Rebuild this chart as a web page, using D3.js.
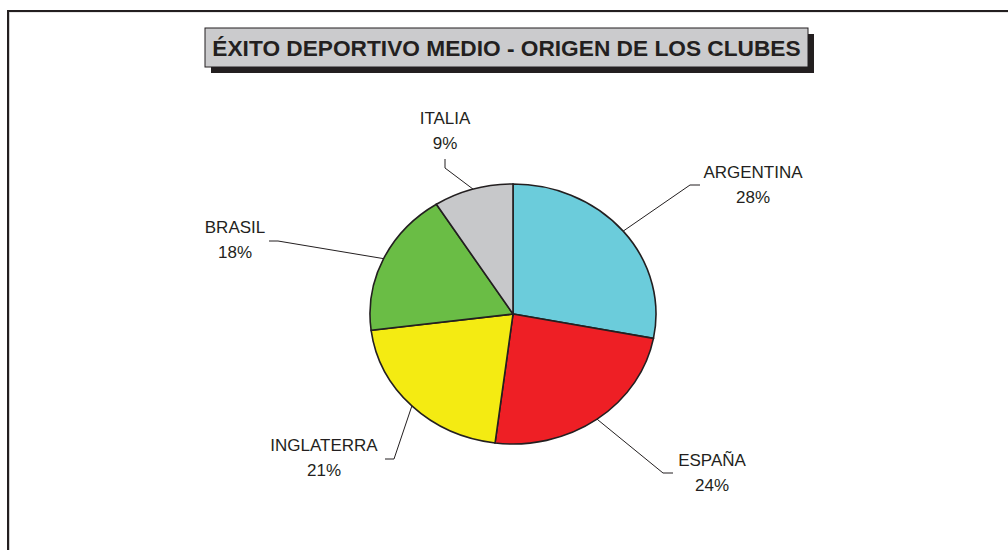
<!DOCTYPE html>
<html>
<head>
<meta charset="utf-8">
<script src="https://cdnjs.cloudflare.com/ajax/libs/d3/7.8.5/d3.min.js"></script>
<style>
    body { margin: 0; background: #fff; }
    text { font-family: "Liberation Sans", Arial, sans-serif; fill: #231f20; }
</style>
</head>
<body>
<div id="chart"></div>
<script>
// data
let clubes = ['ARGENTINA', 'ESPAÑA', 'INGLATERRA', 'BRASIL', 'ITALIA'];
let porcentajes = [28, 24, 21, 18, 9];
let colores = ['#6bccdb', '#ee1f25', '#f4eb12', '#6abd45', '#c7c8ca'];
let titulo = 'ÉXITO DEPORTIVO MEDIO - ORIGEN DE LOS CLUBES';

// label placement relative to pie center (elbow, tail end, text center / baseline)
let labelLayout = {
    'ARGENTINA': { elbow: [177, -129], tail: [187, -129], text: [240, -136] },
    'ESPAÑA': { elbow: [150, 159], tail: [160, 159], text: [199, 152] },
    'INGLATERRA': { elbow: [-119, 145], tail: [-128, 145], text: [-189, 137] },
    'BRASIL': { elbow: [-235, -73], tail: [-244, -73], text: [-278, -81] },
    'ITALIA': { elbow: [-68, -146], tail: [-68, -155], text: [-68, -190] }
};

let width = 1008;
let height = 550;
let cx = 513, cy = 314;
let rx = 143, ry = 130;

let svg = d3.select('#chart')
    .append('svg')
    .attr('width', width)
    .attr('height', height);

// outer frame
svg.append('rect')
    .attr('x', 9.5)
    .attr('y', 12)
    .attr('width', 1020)
    .attr('height', 560)
    .attr('fill', 'none')
    .attr('stroke', '#d0d0d0')
    .attr('stroke-width', 1);
svg.append('rect')
    .attr('x', 8)
    .attr('y', 11)
    .attr('width', 1020)
    .attr('height', 560)
    .attr('fill', 'none')
    .attr('stroke', '#231f20')
    .attr('stroke-width', 2);

// title box
let tb = { x: 205, y: 28, w: 603, h: 39 };
svg.append('rect')
    .attr('x', tb.x + 6)
    .attr('y', tb.y + 6)
    .attr('width', tb.w)
    .attr('height', tb.h)
    .attr('fill', '#231f20');
svg.append('rect')
    .attr('x', tb.x)
    .attr('y', tb.y)
    .attr('width', tb.w)
    .attr('height', tb.h)
    .attr('fill', '#cbcbcd')
    .attr('stroke', '#231f20')
    .attr('stroke-width', 1);
svg.append('text')
    .attr('x', tb.x + tb.w / 2)
    .attr('y', 56)
    .attr('text-anchor', 'middle')
    .style('font-size', '22.7px')
    .style('font-weight', 'bold')
    .text(titulo);

// pie
let data = clubes.map((c, i) => ({ name: c, value: porcentajes[i], color: colores[i] }));

let pie = d3.pie()
    .value(d => d.value)
    .sort(null);

let arc = d3.arc()
    .innerRadius(0)
    .outerRadius(rx);

let arcs = pie(data);

let g = svg.append('g')
    .attr('transform', 'translate(' + cx + ',' + cy + ')');

g.append('g')
    .attr('transform', 'scale(1,' + (ry / rx) + ')')
    .selectAll('path')
    .data(arcs)
    .enter()
    .append('path')
    .attr('d', arc)
    .attr('fill', d => d.data.color)
    .attr('stroke', '#231f20')
    .attr('stroke-width', 1.6)
    .attr('vector-effect', 'non-scaling-stroke');

// leader lines + labels
arcs.forEach(d => {
    let a = (d.startAngle + d.endAngle) / 2;
    let p0 = [rx * Math.sin(a), -ry * Math.cos(a)];
    let lay = labelLayout[d.data.name];

    g.append('polyline')
        .attr('points', [p0, lay.elbow, lay.tail].map(p => p.join(',')).join(' '))
        .attr('fill', 'none')
        .attr('stroke', '#231f20')
        .attr('stroke-width', 1);

    g.append('text')
        .attr('x', lay.text[0])
        .attr('y', lay.text[1])
        .attr('text-anchor', 'middle')
        .style('font-size', '17px')
        .text(d.data.name);

    g.append('text')
        .attr('x', lay.text[0])
        .attr('y', lay.text[1] + 25)
        .attr('text-anchor', 'middle')
        .style('font-size', '17px')
        .text(d.data.value + '%');
});
</script>
</body>
</html>
